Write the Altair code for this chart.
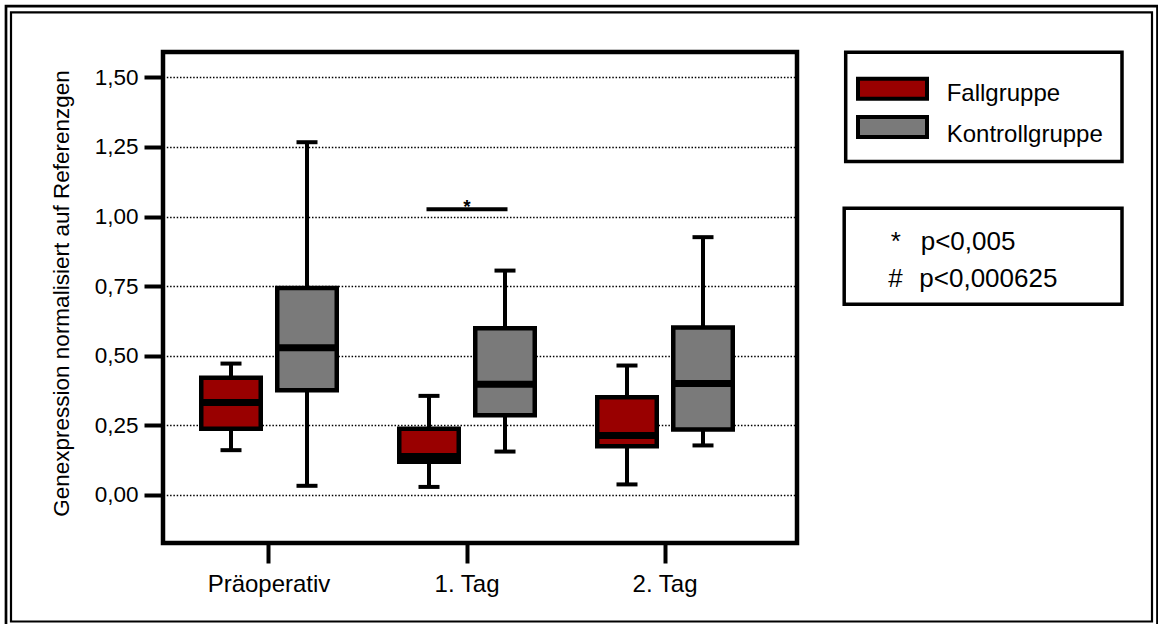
import altair as alt
import pandas as pd

# ---------------- data ----------------
categories = ["Präoperativ", "1. Tag", "2. Tag"]
groups = ["Fallgruppe", "Kontrollgruppe"]
group_colors = ["#990000", "#7a7a7a"]

fall_low = [0.161, 0.029, 0.038]
fall_q1 = [0.238, 0.119, 0.175]
fall_median = [0.332, 0.138, 0.214]
fall_q3 = [0.421, 0.238, 0.351]
fall_high = [0.472, 0.356, 0.465]

kontroll_low = [0.033, 0.156, 0.178]
kontroll_q1 = [0.376, 0.286, 0.235]
kontroll_median = [0.529, 0.398, 0.400]
kontroll_q3 = [0.743, 0.599, 0.602]
kontroll_high = [1.267, 0.806, 0.926]

y_ticks = [0.0, 0.25, 0.5, 0.75, 1.0, 1.25, 1.5]

sig_category = ["1. Tag"]
sig_value = [1.026]
sig_mark = ["*"]

pvalue_symbols = ["*", "#"]
pvalue_texts = ["p<0,005", "p<0,000625"]

y_title = "Genexpression normalisiert auf Referenzgen"

# ---------------- tables ----------------
rows = []
for i, cat in enumerate(categories):
    rows.append(dict(category=cat, group=groups[0], low=fall_low[i], q1=fall_q1[i],
                     median=fall_median[i], q3=fall_q3[i], high=fall_high[i]))
    rows.append(dict(category=cat, group=groups[1], low=kontroll_low[i], q1=kontroll_q1[i],
                     median=kontroll_median[i], q3=kontroll_q3[i], high=kontroll_high[i]))
df = pd.DataFrame(rows)
sig_df = pd.DataFrame({"category": sig_category, "value": sig_value, "mark": sig_mark})

FONT = "Liberation Sans"

x_scale = alt.Scale(domain=categories, paddingInner=0, paddingOuter=0.101, align=0.175, round=False)
xo_scale = alt.Scale(domain=groups, paddingInner=0, paddingOuter=0.3026, round=False)
y_scale = alt.Scale(domain=[-0.1724, 1.591], nice=False, zero=False)
color_scale = alt.Scale(domain=groups, range=group_colors)

x_enc = alt.X("category:N", scale=x_scale, sort=categories,
              axis=alt.Axis(title=None, domain=False, grid=False, tickSize=20, tickWidth=4,
                            tickColor="black", labelFontSize=24, labelPadding=9, labelAngle=0,
                            labelColor="black", labelFont=FONT))
xo_enc = alt.XOffset("group:N", scale=xo_scale, sort=groups)

y_axis = alt.Axis(values=y_ticks, format=".2f", labelExpr="replace(datum.label, '.', ',')",
                  title=y_title, grid=True, gridDash=[1.5, 1.8], gridColor="black", gridWidth=1.6,
                  domain=False, tickSize=19, tickWidth=4, tickColor="black", labelPadding=6,
                  labelFontSize=22.5, labelColor="black", labelFont=FONT,
                  titleFontSize=22.5, titleFontWeight="normal", titleFont=FONT, titleColor="black",
                  titleX=-95, titleY=241, titleAngle=270, titleBaseline="alphabetic", titleAlign="center")

base = alt.Chart(df)

whisker = base.mark_rule(strokeWidth=4, color="black").encode(
    x=x_enc, xOffset=xo_enc,
    y=alt.Y("low:Q", scale=y_scale, axis=y_axis), y2="high:Q")

box = base.mark_bar(width=59.5, stroke="black", strokeWidth=4.5, opacity=1).encode(
    x=x_enc, xOffset=xo_enc,
    y=alt.Y("q1:Q", scale=y_scale), y2="q3:Q",
    color=alt.Color("group:N", scale=color_scale, legend=None))

cap_low = base.mark_tick(orient="horizontal", size=21, thickness=4, color="black", opacity=1).encode(
    x=x_enc, xOffset=xo_enc, y=alt.Y("low:Q", scale=y_scale))
cap_high = base.mark_tick(orient="horizontal", size=21, thickness=4, color="black", opacity=1).encode(
    x=x_enc, xOffset=xo_enc, y=alt.Y("high:Q", scale=y_scale))
median = base.mark_tick(orient="horizontal", size=59.5, thickness=7, color="black", opacity=1).encode(
    x=x_enc, xOffset=xo_enc, y=alt.Y("median:Q", scale=y_scale))

sig_bar = alt.Chart(sig_df).mark_tick(orient="horizontal", size=81, thickness=4, color="black",
                                      opacity=1).encode(
    x=alt.X("category:N", scale=x_scale), y=alt.Y("value:Q", scale=y_scale))
sig_star = alt.Chart(sig_df).mark_text(fontSize=19, fontWeight="bold", font=FONT, color="black",
                                       baseline="alphabetic", dy=3.5).encode(
    x=alt.X("category:N", scale=x_scale), y=alt.Y("value:Q", scale=y_scale), text="mark:N")

# ---------------- decorations (pixel positions relative to plot origin) ----------------
one = pd.DataFrame({"k": [0]})

frame_outer = alt.Chart(one).mark_rect(fill=None, stroke="black", strokeWidth=2.7).encode(
    x=alt.value(-157), x2=alt.value(994.5), y=alt.value(-45.8), y2=alt.value(600))
frame_inner = alt.Chart(one).mark_rect(fill=None, stroke="black", strokeWidth=2.2).encode(
    x=alt.value(-152), x2=alt.value(989), y=alt.value(-39.7), y2=alt.value(569.5))

legend_box = alt.Chart(one).mark_rect(fill="white", stroke="black", strokeWidth=3.5).encode(
    x=alt.value(682.7), x2=alt.value(959), y=alt.value(0.3), y2=alt.value(109.5))

legend_layers = []
for i, g in enumerate(groups):
    gdf = pd.DataFrame({"group": [g]})
    legend_layers.append(
        alt.Chart(gdf).mark_rect(stroke="black", strokeWidth=4).encode(
            x=alt.value(695), x2=alt.value(764),
            y=alt.value(26.7 + i * 38.3), y2=alt.value(46.7 + i * 38.3),
            color=alt.Color("group:N", scale=color_scale, legend=None)))
    legend_layers.append(
        alt.Chart(gdf).mark_text(align="left", baseline="alphabetic", fontSize=24, font=FONT,
                                 color="black").encode(
            x=alt.value(783.7), y=alt.value(49 + i * 41.3), text="group:N"))

pbox = alt.Chart(one).mark_rect(fill="white", stroke="black", strokeWidth=3.5).encode(
    x=alt.value(681.2), x2=alt.value(959), y=alt.value(156.3), y2=alt.value(252.3))

p_layers = []
for i in range(len(pvalue_texts)):
    pdf = pd.DataFrame({"sym": [pvalue_symbols[i]], "txt": [pvalue_texts[i]]})
    p_layers.append(alt.Chart(pdf).mark_text(align="left", baseline="alphabetic", fontSize=26,
                                             font=FONT, color="black").encode(
        x=alt.value(727.7 - 2.4 * i), y=alt.value(198 + 36.7 * i), text="sym:N"))
    p_layers.append(alt.Chart(pdf).mark_text(align="left", baseline="alphabetic", fontSize=26,
                                             font=FONT, color="black").encode(
        x=alt.value(757.7 - 1.4 * i), y=alt.value(198 + 36.7 * i), text="txt:N"))

chart = alt.layer(
    frame_outer, frame_inner,
    whisker, box, median, cap_low, cap_high, sig_bar, sig_star,
    legend_box, *legend_layers, pbox, *p_layers
).resolve_scale(
    x="shared", y="shared", color="shared"
).properties(
    width=634, height=491,
    autosize=alt.AutoSizeParams(type="none"),
    padding={"left": 163, "top": 52, "right": 361, "bottom": 81},
    background="white",
).configure(
    font=FONT,
    view=alt.ViewConfig(stroke="black", strokeWidth=4.5),
)

chart.save("out.html", embed_options={"renderer": "svg", "actions": False})
